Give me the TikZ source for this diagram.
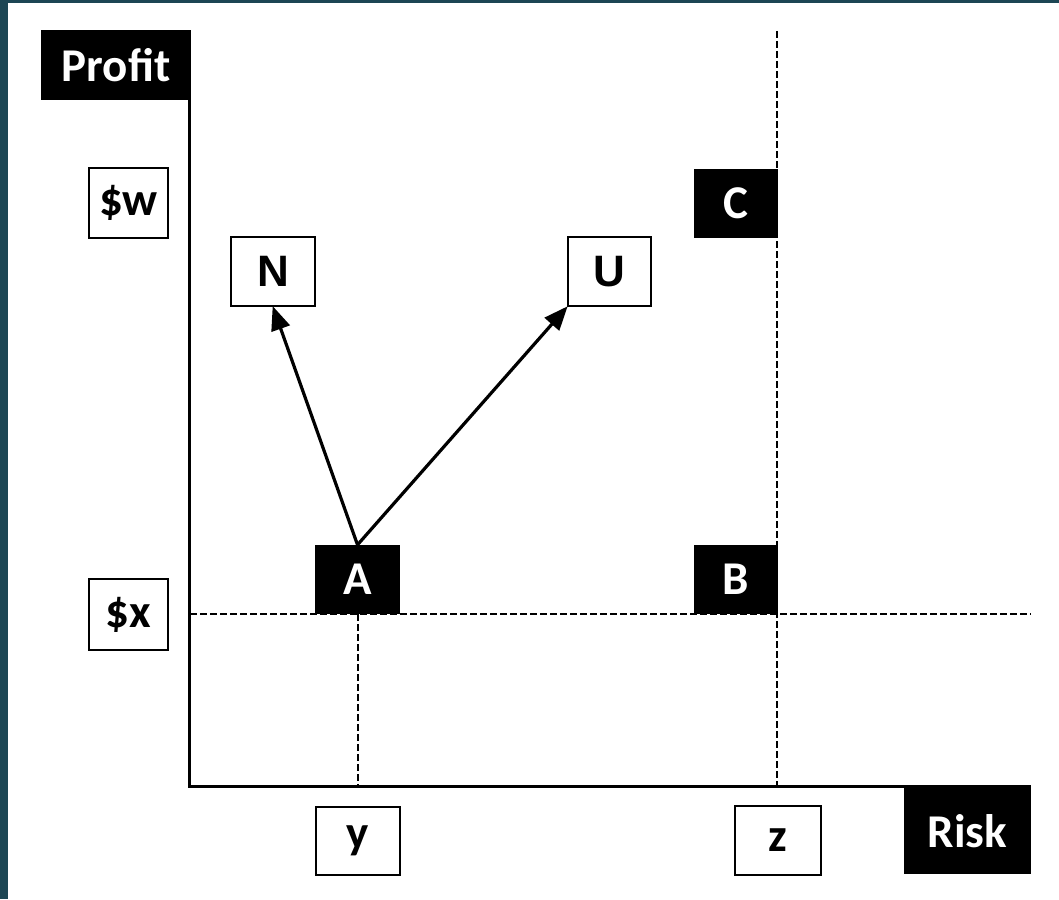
\documentclass[tikz,border=0pt]{standalone}
\usepackage{fontspec}
\setmainfont{Carlito}
\newfontfamily\arialfont{Liberation Sans}
\usepackage{tikz}
\usetikzlibrary{positioning, arrows.meta}
\definecolor{frameTeal}{RGB}{29,70,84}

\begin{document}
\begin{tikzpicture}[
    x=1pt, y=-1pt,
    label box/.style={rectangle, draw=black, line width=2pt, fill=white, inner sep=0pt, font=\fontsize{47}{52}\selectfont\bfseries},
    dark box/.style={rectangle, fill=black, text=white, inner sep=0pt, font=\fontsize{47}{52}\selectfont\bfseries},
    arial label/.style={label box, font=\arialfont\fontsize{44}{50}\selectfont\bfseries},
    guide/.style={line width=1.8pt, dash pattern=on 7pt off 3pt},
    axis/.style={line width=3pt},
    arrow/.style={-{Triangle[length=24pt,width=19pt]}, line width=3.2pt, shorten >=-1pt}
]

% Frame and page
\fill[white] (0,0) rectangle (1059,899);
\fill[frameTeal] (0,0) rectangle (8,899);
\fill[frameTeal] (0,0) rectangle (1059,3);
\useasboundingbox (0,0) rectangle (1059,899);

% Guide lines
\draw[guide] (190,614) -- (1031,614);
\draw[guide] (358,614) -- (358,786);
\draw[guide] (777,31) -- (777,786);

% Axes
\node[dark box, minimum width=150pt, minimum height=70pt] (profit) at (116,65) {Profit};
\node[dark box, minimum width=127pt, minimum height=86pt] (risk) at (967.5,831) {Risk};
\coordinate (top) at (189.5,100);
\coordinate (origin) at (189.5,786.5);
\coordinate (end) at (1031,786.5);
\draw[axis] (top) -- (origin) -- (end);

% Value labels
\node[label box, minimum width=79pt, minimum height=70pt] (w) at (128.5,203) {\$w};
\node[label box, minimum width=79pt, minimum height=71pt] (x) at (128.5,614.5) {\$x};
\node[label box, minimum width=84pt, minimum height=68pt] (y) at (358,841) {y};
\node[label box, minimum width=86pt, minimum height=69pt] (z) at (778,840.5) {z};

% Points
\node[dark box, minimum width=85pt, minimum height=69pt] (A) at (357.5,579.5) {A};
\node[dark box, minimum width=84pt, minimum height=69pt] (B) at (736,579.5) {B};
\node[dark box, minimum width=84pt, minimum height=69pt] (C) at (736,203.5) {C};
\node[arial label, minimum width=84pt, minimum height=69pt] (N) at (273,271.5) {N};
\node[arial label, minimum width=83pt, minimum height=69pt] (U) at (609.5,271.5) {U};

% Moves
\draw[arrow] (A.north) -- (N.south);
\draw[arrow] (A.north) -- (U.south west);

\end{tikzpicture}
\end{document}
